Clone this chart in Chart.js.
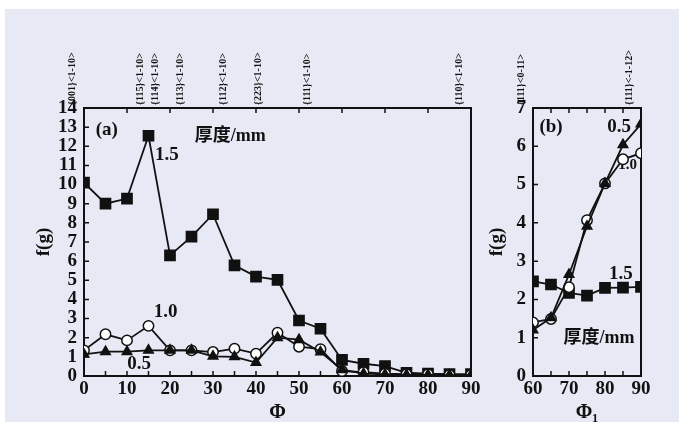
<!DOCTYPE html>
<html>
<head>
<meta charset="utf-8">
<script src="https://cdn.jsdelivr.net/npm/chart.js@4.4.0/dist/chart.umd.min.js"></script>
<style>
  body { margin: 0; background: #fff; }
  #wrap { position: relative; width: 684px; height: 427px; overflow: hidden; }
  #bg { position: absolute; left: 5px; top: 9px; right: 5px; bottom: 5px; background: #e7eaf5; }
  #ca { position: absolute; left: 0; top: 0; }
  #cb { position: absolute; left: 476px; top: 0; }
</style>
</head>
<body>
<div id="wrap">
  <div id="bg"></div>
  <canvas id="ca" width="490" height="427"></canvas>
  <canvas id="cb" width="208" height="427"></canvas>
</div>
<script>
// panel (a): f(g) against Phi, three thicknesses
const phiA = [0, 5, 10, 15, 20, 25, 30, 35, 40, 45, 50, 55, 60, 65, 70, 75, 80, 85, 90];
const a15 = [10.1, 9.0, 9.27, 12.55, 6.3, 7.28, 8.45, 5.78, 5.19, 5.02, 2.9, 2.47, 0.84, 0.64, 0.52, 0.17, 0.12, 0.1, 0.1];
const a10 = [1.34, 2.18, 1.86, 2.62, 1.34, 1.34, 1.25, 1.43, 1.17, 2.26, 1.53, 1.4, 0.26, 0.2, 0.12, 0.1, 0.1, 0.06, 0.06];
const a05 = [1.13, 1.27, 1.27, 1.34, 1.34, 1.34, 1.03, 1.0, 0.7, 2.0, 1.9, 1.25, 0.33, 0.12, 0.08, 0.06, 0.06, 0.05, 0.05];

// panel (b): f(g) against Phi1
const phiB = [60, 65, 70, 75, 80, 85, 90];
const b15 = [2.47, 2.39, 2.17, 2.1, 2.3, 2.31, 2.33];
const b10 = [1.4, 1.49, 2.32, 4.07, 5.03, 5.66, 5.82];
const b05 = [1.2, 1.52, 2.65, 3.91, 5.03, 6.04, 6.58];

// orientation labels on the top edge
const topPosA = [0, 15.8, 19.5, 25.2, 35.3, 43.3, 54.7, 90];
const topLabelsA = ["{001}<1-10>", "{115}<1-10>", "{114}<1-10>", "{113}<1-10>", "{112}<1-10>", "{223}<1-10>", "{111}<1-10>", "{110}<1-10>"];
const topPosB = [60, 90];
const topLabelsB = ["{111}<0-11>", "{111}<-1-12>"];

// text inside the plots, in data units
const notesA = [
  { x: 5.3, y: 12.85, text: "(a)", size: 19 },
  { x: 34, y: 12.5, text: "厚度/mm", size: 18 },
  { x: 19.3, y: 11.55, text: "1.5", size: 19 },
  { x: 19, y: 3.34, text: "1.0", size: 19 },
  { x: 12.8, y: 0.63, text: "0.5", size: 19 }
];
const notesB = [
  { x: 65, y: 6.5, text: "(b)", size: 19 },
  { x: 83.9, y: 6.5, text: "0.5", size: 19 },
  { x: 86.3, y: 5.5, text: "1.0", size: 15 },
  { x: 84.4, y: 2.66, text: "1.5", size: 19 },
  { x: 78.3, y: 0.99, text: "厚度/mm", size: 18 }
];

const INK = "#111";
const SERIF = "'Liberation Serif', 'Noto Sans CJK SC', serif";

// frame, inward ticks and notes (notes sit under the marks)
const framePlugin = {
  id: "frame",
  beforeDatasetsDraw(chart, args, opts) {
    const { ctx, chartArea: a, scales } = chart;
    ctx.save();
    ctx.strokeStyle = INK;
    ctx.lineWidth = 2;
    ctx.strokeRect(a.left, a.top, a.right - a.left, a.bottom - a.top);
    ctx.lineWidth = 1.5;
    const len = 5;
    const xs = scales.x, ys = scales.y;
    ctx.beginPath();
    for (let v = xs.min; v <= xs.max + 1e-6; v += opts.bottomStep) {
      const px = xs.getPixelForValue(v);
      ctx.moveTo(px, a.bottom); ctx.lineTo(px, a.bottom - len);
    }
    for (let v = xs.min; v <= xs.max + 1e-6; v += opts.topStep) {
      const px = xs.getPixelForValue(v);
      ctx.moveTo(px, a.top); ctx.lineTo(px, a.top + len);
    }
    for (let v = ys.min; v <= ys.max + 1e-6; v += 1) {
      const py = ys.getPixelForValue(v);
      ctx.moveTo(a.left, py); ctx.lineTo(a.left + len, py);
    }
    ctx.stroke();

    ctx.fillStyle = INK;
    ctx.textAlign = "center";
    ctx.textBaseline = "middle";
    opts.notes.forEach(n => {
      ctx.font = "bold " + n.size + "px " + SERIF;
      ctx.fillText(n.text, xs.getPixelForValue(n.x), ys.getPixelForValue(n.y));
    });
    ctx.restore();
  }
};

function series(xv, yv, style, fill, r, order) {
  return {
    data: xv.map((x, i) => ({ x: x, y: yv[i] })),
    borderColor: INK,
    borderWidth: 1.8,
    pointStyle: style,
    pointRadius: r,
    pointBackgroundColor: fill,
    pointBorderColor: INK,
    pointBorderWidth: 1.5,
    order: order
  };
}

function makeChart(id, cfg) {
  const tickFont = { family: SERIF, size: 19, weight: "bold", lineHeight: 1 };
  return new Chart(document.getElementById(id), {
    type: "line",
    data: {
      datasets: [
        series(cfg.xv, cfg.s05, "triangle", INK, 5.5, 1),
        series(cfg.xv, cfg.s10, "circle", "#fff", 5.2, 2),
        series(cfg.xv, cfg.s15, "rect", INK, 7.2, 3)
      ]
    },
    options: {
      responsive: false,
      animation: false,
      layout: { padding: cfg.padding },
      scales: {
        x: {
          type: "linear", min: cfg.xmin, max: cfg.xmax,
          ticks: { stepSize: 10, autoSkip: false, maxRotation: 0, padding: 4, color: INK, font: tickFont },
          grid: { display: false, drawTicks: false },
          border: { display: false },
          title: { display: true, text: cfg.xTitle, color: INK, padding: { top: 0, bottom: 0 }, font: { family: SERIF, size: 20, weight: "bold" } },
          afterFit: s => { s.height = 49; }
        },
        x2: {
          type: "linear", position: "top", min: cfg.xmin, max: cfg.xmax,
          afterBuildTicks: s => { s.ticks = cfg.topPos.map(v => ({ value: v })); },
          ticks: {
            autoSkip: false, minRotation: 90, maxRotation: 90, padding: 3, color: INK,
            font: { family: SERIF, size: 10, weight: "bold" },
            callback: (v, i) => cfg.topLabels[i]
          },
          grid: { display: false, drawTicks: false },
          border: { display: false },
          afterFit: s => { s.height = 108; }
        },
        y: {
          min: 0, max: cfg.ymax,
          ticks: { stepSize: 1, autoSkip: false, padding: 7, color: INK, font: tickFont },
          grid: { display: false, drawTicks: false },
          border: { display: false },
          title: { display: true, text: "f(g)", color: INK, padding: { top: cfg.yTitlePad, bottom: 0 }, font: { family: SERIF, size: 19, weight: "bold" } },
          afterFit: s => { s.width = cfg.yWidth; }
        }
      },
      plugins: {
        legend: { display: false },
        tooltip: { enabled: false },
        frame: { notes: cfg.notes, topStep: cfg.topStep, bottomStep: cfg.bottomStep }
      }
    },
    plugins: [framePlugin]
  });
}

makeChart("ca", {
  xv: phiA, s15: a15, s10: a10, s05: a05,
  xmin: 0, xmax: 90, ymax: 14, xTitle: "Φ",
  topPos: topPosA, topLabels: topLabelsA, notes: notesA,
  topStep: 10, bottomStep: 5,
  padding: { left: 20, right: 19, top: 0, bottom: 2 },
  yWidth: 64, yTitlePad: 13
});

makeChart("cb", {
  xv: phiB, s15: b15, s10: b10, s05: b05,
  xmin: 60, xmax: 90, ymax: 7, xTitle: "Φ₁",
  topPos: topPosB, topLabels: topLabelsB, notes: notesB,
  topStep: 5, bottomStep: 5,
  padding: { left: 0, right: 43, top: 0, bottom: 2 },
  yWidth: 57, yTitlePad: 10
});
</script>
</body>
</html>
